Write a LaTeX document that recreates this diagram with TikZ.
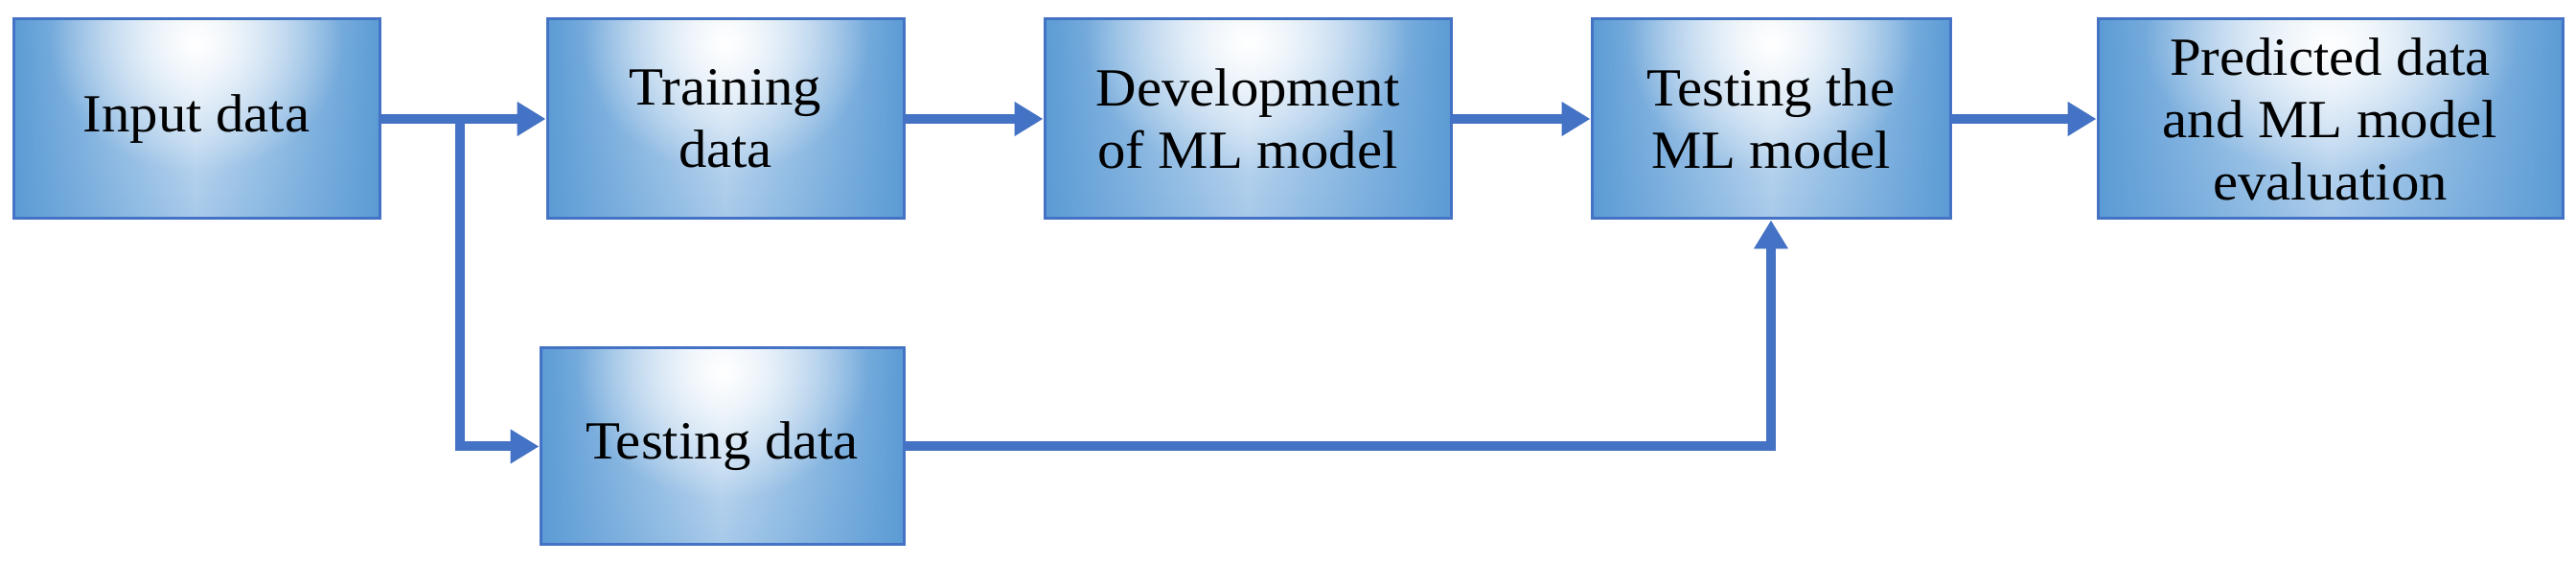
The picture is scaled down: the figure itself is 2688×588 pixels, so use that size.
\documentclass[tikz,border=0pt]{standalone}
\usepackage{fontspec}
\setmainfont{Liberation Serif}[FakeStretch=1.05]
\usetikzlibrary{arrows.meta,fadings,calc}
\definecolor{boxborder}{HTML}{4472C4}
\definecolor{arrowc}{HTML}{4472C4}
\definecolor{sideblue}{HTML}{5B9BD5}
\definecolor{topc}{HTML}{D9E8F7}
\definecolor{botc}{HTML}{A8CAEA}
\tikzfading[name=sidefade, left color=transparent!0, right color=transparent!0, middle color=transparent!100]
\tikzfading[name=glow, inner color=transparent!0, outer color=transparent!100]
\begin{document}
\begin{tikzpicture}[x=1pt,y=1pt,
  box/.style={draw=boxborder, line width=3pt, minimum width=#1, minimum height=208pt,
    align=center, inner sep=0pt, font=\fontsize{56}{65}\selectfont,
    path picture={
      \fill[top color=topc, bottom color=botc] (path picture bounding box.south west) rectangle (path picture bounding box.north east);
      \fill[sideblue, path fading=sidefade] (path picture bounding box.south west) rectangle (path picture bounding box.north east);
      \path let \p1=(path picture bounding box.south west), \p2=(path picture bounding box.north east) in
        [fill=white, path fading=glow] ({0.5*(\x1+\x2)}, {\y2-0.12*(\y2-\y1)}) ellipse ({0.4*(\x2-\x1)} and {0.65*(\y2-\y1)});
    }},
  arr/.style={draw=arrowc, line width=10pt, -{Triangle[length=30pt,width=34pt]}}]
\useasboundingbox (0,0) rectangle (2688,588);
\node[box=382pt] (in) at (205,464) {Input data};
\node[box=372pt] (train) at (757,464) {Training\\data};
\node[box=424pt] (dev) at (1302,464) {Development\\of ML model};
\node[box=374pt] (tml) at (1848,464) {Testing the\\ML model};
\node[box=485pt] (pred) at (2431.5,464) {Predicted data\\and ML model\\evaluation};
\node[box=379pt, minimum height=205pt] (tdata) at (753.5,122.5) {Testing data};
\coordinate (j) at (480,464);
\draw[arr] (in.east) -- (train.west);
\draw[arr] (j) |- (tdata.west);
\draw[arr] (train.east) -- (dev.west);
\draw[arr] (dev.east) -- (tml.west);
\draw[arr] (tml.east) -- (pred.west);
\draw[arr] (tdata.east) -| (tml.south);
\end{tikzpicture}
\end{document}
